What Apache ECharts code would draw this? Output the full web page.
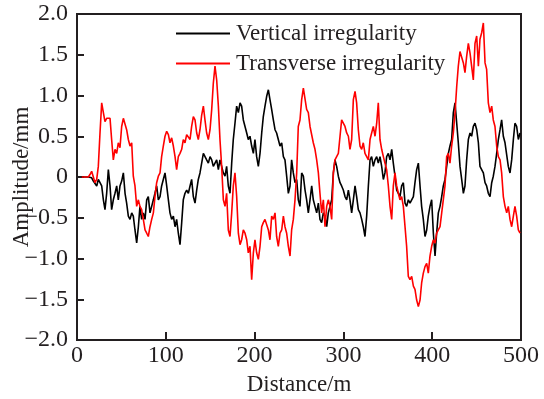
<!DOCTYPE html>
<html>
<head>
<meta charset="utf-8">
<script src="https://cdn.jsdelivr.net/npm/echarts@6/dist/echarts.min.js"></script>
<style>
html,body{margin:0;padding:0;background:#fff;}
#chart{width:544px;height:399px;}
</style>
</head>
<body>
<div id="chart"></div>
<script>
const distance = [
5.3,7.1,9.0,10.9,12.8,14.6,16.5,18.4,20.3,22.2,24.0,25.9,27.8,29.7,31.5,33.4,35.3,37.2,39.0,40.9,
42.8,44.7,46.5,48.4,50.3,52.2,54.1,55.9,57.8,59.7,61.6,63.4,65.3,67.2,69.1,70.9,72.8,74.7,76.6,78.5,
80.3,82.2,84.1,86.0,87.8,89.7,91.6,93.5,95.3,97.2,99.1,101.0,102.9,104.7,106.6,108.5,110.4,112.2,114.1,116.0,
117.9,119.7,121.6,123.5,125.4,127.3,129.1,131.0,132.9,134.8,136.6,138.5,140.4,142.3,144.1,146.0,147.9,149.8,151.7,153.5,
155.4,157.3,159.2,
161.0,162.9,164.8,166.7,168.5,170.4,172.3,174.2,176.0,177.9,179.8,181.7,183.6,185.4,187.3,189.2,191.1,192.9,194.8,196.7,
198.6,200.4,202.3,204.2,206.1,208.0,209.8,211.7,213.6,215.5,217.3,219.2,221.1,223.0,224.8,226.7,228.6,230.5,232.4,234.2,
236.1,238.0,239.9,241.7,243.6,245.5,247.4,249.2,251.1,253.0,254.9,256.8,258.6,260.5,262.4,264.3,266.1,268.0,269.9,271.8,
273.6,275.5,277.4,279.3,281.2,283.0,284.9,286.8,288.7,290.5,292.4,294.3,296.2,298.0,299.9,301.8,303.7,305.6,307.4,309.3,
311.2,313.1,314.9,316.8,318.7,320.6,322.4,324.3,326.2,328.1,
330.0,331.8,333.7,335.6,337.5,339.3,341.2,343.1,345.0,346.8,348.7,350.6,352.5,354.4,356.2,358.1,360.0,361.9,363.7,365.6,
367.5,369.4,371.2,373.1,375.0,376.9,378.8,380.6,382.5,384.4,386.3,388.1,390.0,391.9,393.8,395.6,397.5,399.4,401.3,403.2,
405.0,406.9,408.8,410.7,412.5,414.4,416.3,418.2,420.0,421.9,423.8,425.7,427.6,429.4,431.3,433.2,435.1,436.9,438.8,440.7,
442.6,444.4,446.3,448.2,450.1,452.0,453.8,455.7,457.6,459.5,461.3,463.2,465.1,467.0,468.8,470.7,472.6,474.5,476.4,478.2,
480.1,482.0,483.9,485.7,487.6,489.5,491.4,493.2,495.1,497.0,498.9
];

const vertical = [
0.00,0.00,0.00,0.00,0.00,0.00,-0.01,-0.05,-0.03,-0.11,
-0.03,-0.05,-0.11,-0.28,-0.40,-0.20,0.09,-0.11,-0.40,-0.28,
-0.20,-0.11,-0.28,-0.11,-0.05,0.05,-0.20,-0.32,-0.48,-0.52,
-0.44,-0.48,-0.65,-0.81,-0.61,-0.36,-0.52,-0.44,-0.52,-0.28,
-0.24,-0.44,-0.36,-0.28,-0.20,-0.11,-0.28,-0.24,-0.11,-0.03,
0.05,-0.11,-0.28,-0.44,-0.52,-0.48,-0.61,-0.52,-0.69,-0.83,
-0.56,-0.28,-0.20,-0.16,-0.20,-0.11,-0.03,-0.24,-0.32,-0.16,
-0.03,0.05,0.17,0.29,0.31,0.21,0.17,0.25,0.21,0.13,
0.17,0.21,0.09,
0.21,0.13,0.05,0.01,0.13,-0.11,-0.20,0.17,0.46,0.66,
0.87,0.79,0.91,0.87,0.70,0.62,0.54,0.46,0.50,0.38,
0.29,0.46,0.25,0.13,0.29,0.54,0.74,0.87,0.99,1.07,
0.95,0.83,0.70,0.58,0.54,0.46,0.38,0.42,0.25,0.21,
0.01,-0.20,-0.11,0.21,0.05,-0.07,-0.03,-0.28,-0.36,0.05,
0.01,-0.16,-0.28,-0.44,-0.28,-0.11,-0.28,-0.36,-0.44,-0.32,
-0.52,-0.56,-0.44,-0.48,-0.61,-0.44,-0.36,-0.28,0.05,0.21,
0.13,0.01,-0.07,-0.11,-0.16,-0.24,-0.28,-0.16,-0.28,-0.44,
-0.28,-0.11,-0.24,-0.40,-0.44,-0.52,-0.61,-0.73,-0.48,-0.11,
0.21,0.25,0.13,0.21,0.25,0.17,0.25,0.13,-0.03,0.05,
0.25,0.29,0.21,0.34,0.17,0.01,-0.16,-0.20,-0.24,-0.11,
-0.07,-0.32,-0.36,-0.28,-0.32,-0.28,-0.24,-0.07,0.09,0.17,
-0.11,-0.36,-0.52,-0.73,-0.65,-0.48,-0.36,-0.28,-0.69,-0.97,
-0.69,-0.44,-0.36,-0.24,-0.11,-0.03,0.13,0.29,0.38,0.46,
0.79,0.91,0.66,0.42,0.13,-0.03,-0.20,-0.11,0.21,0.46,
0.54,0.50,0.62,0.66,0.58,0.42,0.13,0.09,0.05,-0.07,
-0.11,-0.20,-0.24,-0.07,0.01,0.13,0.29,0.46,0.58,0.70,
0.50,0.42,0.42,0.13,0.05,0.21,0.46,0.66,0.62,0.46,
0.54
];

const transverse = [
0.00,0.00,0.00,0.00,0.00,0.03,0.07,0.05,-0.07,-0.03,
0.13,0.54,0.91,0.79,0.68,0.72,0.70,0.72,0.46,0.21,
0.34,0.29,0.42,0.36,0.62,0.72,0.70,0.58,0.46,0.38,
0.42,0.01,-0.11,-0.36,-0.28,-0.36,-0.40,-0.52,-0.65,-0.69,
-0.73,-0.61,-0.52,-0.44,-0.24,-0.07,0.01,0.05,0.25,0.38,
0.50,0.56,0.52,0.42,0.48,0.38,0.25,0.09,0.25,0.29,
0.34,0.46,0.42,0.52,0.54,0.46,0.62,0.74,0.70,0.54,
0.46,0.58,0.76,0.87,0.70,0.54,0.46,0.58,0.83,1.15,
1.36,1.19,0.87,
0.46,0.13,-0.28,-0.36,-0.20,-0.65,-0.73,-0.44,-0.11,0.05,
-0.24,-0.69,-0.83,-0.77,-0.65,-0.69,-0.77,-0.93,-0.85,-1.26,
-0.93,-0.77,-0.93,-1.01,-0.85,-0.61,-0.56,-0.52,-0.52,-0.65,
-0.77,-0.48,-0.52,-0.44,-0.73,-0.85,-0.69,-0.65,-0.48,-0.61,
-0.69,-0.85,-0.97,-0.65,-0.52,-0.28,0.05,0.62,0.70,0.95,
1.09,1.07,0.83,0.79,0.62,0.62,0.42,0.34,0.21,0.05,
-0.20,-0.44,-0.28,-0.61,-0.36,-0.28,-0.36,-0.52,0.05,0.21,
0.25,0.29,0.50,0.70,0.72,0.62,0.54,0.50,0.34,0.46,
0.95,1.05,0.91,0.58,0.38,0.34,0.42,0.29,0.25,0.21,
0.46,0.54,0.62,0.50,0.66,0.91,0.46,0.34,0.25,0.17,
0.09,-0.11,-0.36,-0.52,-0.11,0.05,-0.11,-0.20,-0.28,-0.24,
-0.36,-0.61,-0.85,-1.22,-1.26,-1.22,-1.34,-1.38,-1.51,-1.59,
-1.51,-1.30,-1.18,-1.10,-1.06,-1.18,-0.97,-0.85,-0.77,-0.81,
-0.69,-0.69,-0.61,-0.44,-0.28,-0.11,0.25,0.29,0.17,0.38,
0.54,0.79,1.11,1.36,1.54,1.52,1.40,1.28,1.48,1.64,
1.52,1.36,1.19,1.64,1.73,1.36,1.69,1.77,1.89,1.40,
1.32,0.91,0.79,0.87,0.70,0.62,0.38,0.25,0.21,0.05,
-0.24,-0.36,-0.44,-0.36,-0.52,-0.61,-0.48,-0.36,-0.48,-0.65,
-0.69
];

const seriesNames = ['Vertical irregularity', 'Transverse irregularity'];
const xTicks = [0, 100, 200, 300, 400, 500];
const yTicks = [-2.0, -1.5, -1.0, -0.5, 0, 0.5, 1.0, 1.5, 2.0];

const FONT = '"Liberation Serif", "DejaVu Serif", serif';
const INK = '#231f20';

const chart = echarts.init(document.getElementById('chart'), null, {renderer: 'canvas'});
chart.setOption({
  animation: false,
  backgroundColor: '#ffffff',
  grid: {left: 77, right: 23, top: 14, bottom: 59, show: true, borderColor: INK, borderWidth: 2,
         backgroundColor: 'transparent', containLabel: false, outerBoundsMode: 'none'},
  legend: {
    orient: 'vertical', left: 176, top: 22, padding: 0, itemWidth: 54, itemHeight: 2, itemGap: 7,
    icon: 'rect',
    textStyle: {fontFamily: FONT, fontSize: 23, color: INK, padding: [0, 0, 0, 1]},
    data: seriesNames
  },
  xAxis: {
    type: 'value', min: xTicks[0], max: xTicks[xTicks.length - 1], interval: 100,
    name: 'Distance/m', nameLocation: 'middle', nameGap: 33, nameMoveOverlap: false,
    nameTextStyle: {fontFamily: FONT, fontSize: 23, color: INK},
    axisLine: {show: false, onZero: false},
    axisTick: {show: true, inside: true, length: 8, lineStyle: {color: INK, width: 2}},
    axisLabel: {fontFamily: FONT, fontSize: 24, color: INK, margin: 4},
    splitLine: {show: false}
  },
  yAxis: {
    type: 'value', min: yTicks[0], max: yTicks[yTicks.length - 1], interval: 0.5,
    name: 'Amplitude/mm', nameLocation: 'middle', nameGap: 44, nameMoveOverlap: false,
    nameTextStyle: {fontFamily: FONT, fontSize: 23, color: INK},
    axisLine: {show: false, onZero: false},
    axisTick: {show: true, inside: true, length: 7, lineStyle: {color: INK, width: 2}},
    axisLabel: {
      fontFamily: FONT, fontSize: 24, color: INK, margin: 9,
      formatter: v => v === 0 ? '0' : (v < 0 ? '\u2212' + Math.abs(v).toFixed(1) : v.toFixed(1))
    },
    splitLine: {show: false}
  },
  series: [
    {name: seriesNames[0], type: 'line', symbol: 'none', data: distance.map((d, i) => [d, vertical[i]]),
     lineStyle: {color: '#000000', width: 1.6}, itemStyle: {color: '#000000'}, z: 2},
    {name: seriesNames[1], type: 'line', symbol: 'none', data: distance.map((d, i) => [d, transverse[i]]),
     lineStyle: {color: '#ff0000', width: 1.6}, itemStyle: {color: '#ff0000'}, z: 3}
  ]
});
</script>
</body>
</html>
